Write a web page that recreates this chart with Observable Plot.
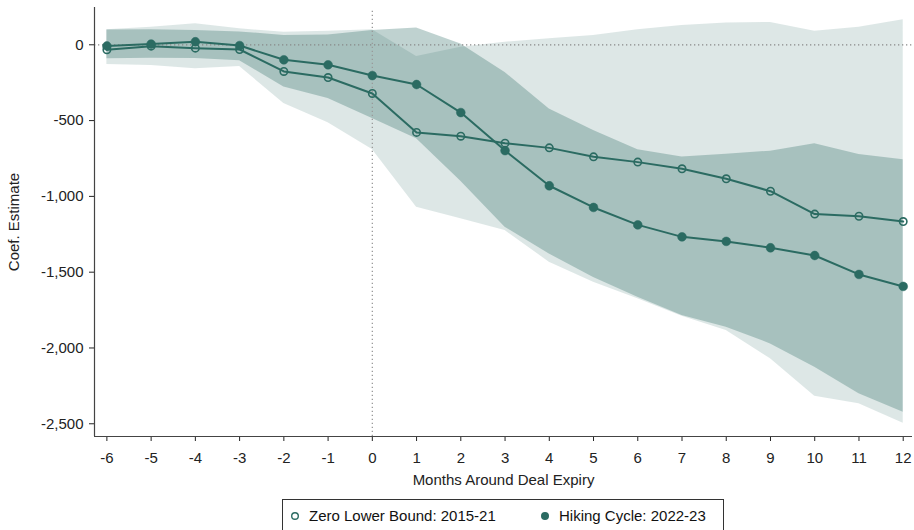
<!DOCTYPE html>
<html>
<head>
<meta charset="utf-8">
<script src="https://cdn.jsdelivr.net/npm/d3@7"></script>
<script src="https://cdn.jsdelivr.net/npm/@observablehq/plot@0.6"></script>
<style>
  html, body { margin: 0; padding: 0; background: #fff; }
  body { width: 914px; height: 530px; position: relative; overflow: hidden; font-family: "Liberation Sans", Arial, sans-serif; }
  #chart { position: absolute; left: 0; top: 0; }
  #legend { position: absolute; left: 282px; top: 499px; width: 442px; height: 40px; border: 1px solid #333; box-sizing: border-box; font-size: 15px; color: #111; }
  #legend .item { position: absolute; top: 7px; display: flex; align-items: center; }
  #legend svg { margin-right: 8px; }
</style>
</head>
<body>
<div id="chart"></div>
<div id="legend"></div>
<script>
// ---- data ----
const months = [-6, -5, -4, -3, -2, -1, 0, 1, 2, 3, 4, 5, 6, 7, 8, 9, 10, 11, 12];
const seriesNames = ["Zero Lower Bound: 2015-21", "Hiking Cycle: 2022-23"];

const zlbCoef = [-33, -9, -22, -31, -176, -216, -321, -578, -603, -649, -680, -739, -774, -818, -884, -966, -1117, -1131, -1166];
const zlbLo   = [-130, -137, -158, -143, -387, -515, -690, -1071, -1148, -1225, -1434, -1566, -1675, -1790, -1885, -2071, -2318, -2368, -2496];
const zlbHi   = [100, 116, 138, 105, 83, 90, 100, -77, -16, 17, 40, 62, 100, 127, 143, 147, 90, 116, 165];

const hikeCoef = [-8, 5, 20, -5, -99, -132, -203, -262, -447, -698, -930, -1073, -1188, -1267, -1297, -1339, -1390, -1515, -1594];
const hikeLo   = [-92, -88, -90, -105, -278, -355, -487, -620, -900, -1203, -1380, -1535, -1665, -1786, -1863, -1973, -2127, -2302, -2424];
const hikeHi   = [98, 100, 95, 85, 62, 65, 95, 110, 5, -182, -424, -565, -692, -741, -722, -702, -653, -723, -759];

const yTicks = [0, -500, -1000, -1500, -2000, -2500];

// ---- build tables ----
const zlb = months.map((m, i) => ({x: m, y: zlbCoef[i], lo: zlbLo[i], hi: zlbHi[i]}));
const hike = months.map((m, i) => ({x: m, y: hikeCoef[i], lo: hikeLo[i], hi: hikeHi[i]}));

const teal = "#2b6b62";
const xDomain = [-6.28, 12.21];
const yDomain = [-2584, 246];

const chart = Plot.plot({
  width: 914,
  height: 492,
  marginLeft: 94,
  marginRight: 2,
  marginTop: 7,
  marginBottom: 56,
  style: {fontFamily: "Liberation Sans, Arial, sans-serif", fontSize: "15px", color: "#222", background: "#fff"},
  x: {domain: xDomain, ticks: months, tickFormat: d => String(d), tickSize: 5, tickPadding: 11,
      label: "Months Around Deal Expiry", labelAnchor: "center", labelOffset: 48, labelArrow: "none"},
  y: {domain: yDomain, ticks: yTicks, tickFormat: d => d3.format(",")(d).replace("−", "-"), tickSize: 5, tickPadding: 6,
      label: "Coef. Estimate", labelAnchor: "center", labelOffset: 86, labelArrow: "none"},
  marks: [
    Plot.areaY(zlb, {x: "x", y1: "lo", y2: "hi", fill: teal, fillOpacity: 0.16}),
    Plot.areaY(hike, {x: "x", y1: "lo", y2: "hi", fill: teal, fillOpacity: 0.30}),
    Plot.ruleY([0], {stroke: "#888", strokeWidth: 1.3, strokeDasharray: "1.3,2.7"}),
    Plot.ruleX([0], {y1: yDomain[0], y2: yDomain[1] - 20, stroke: "#999", strokeWidth: 1.3, strokeDasharray: "1.3,2.7"}),
    Plot.ruleX([xDomain[0]], {stroke: "#444", strokeWidth: 1.2}),
    Plot.ruleY([yDomain[0]], {stroke: "#444", strokeWidth: 1.2}),
    Plot.line(zlb, {x: "x", y: "y", stroke: teal, strokeWidth: 2}),
    Plot.line(hike, {x: "x", y: "y", stroke: teal, strokeWidth: 2}),
    Plot.dot(zlb, {x: "x", y: "y", r: 3.7, stroke: teal, strokeWidth: 1.6, fill: "none"}),
    Plot.dot(hike, {x: "x", y: "y", r: 4.4, fill: teal, stroke: teal, strokeWidth: 0.5})
  ]
});
document.getElementById("chart").appendChild(chart);

// ---- legend ----
const legend = document.getElementById("legend");
const items = [
  {name: seriesNames[0], left: 6, hollow: true},
  {name: seriesNames[1], left: 256, hollow: false}
];
for (const it of items) {
  const d = document.createElement("div");
  d.className = "item";
  d.style.left = it.left + "px";
  d.innerHTML = `<svg width="12" height="12"><circle cx="6" cy="6" r="3.3" fill="${it.hollow ? "none" : teal}" stroke="${teal}" stroke-width="1.4"/></svg><span>${it.name}</span>`;
  legend.appendChild(d);
}
</script>
</body>
</html>
